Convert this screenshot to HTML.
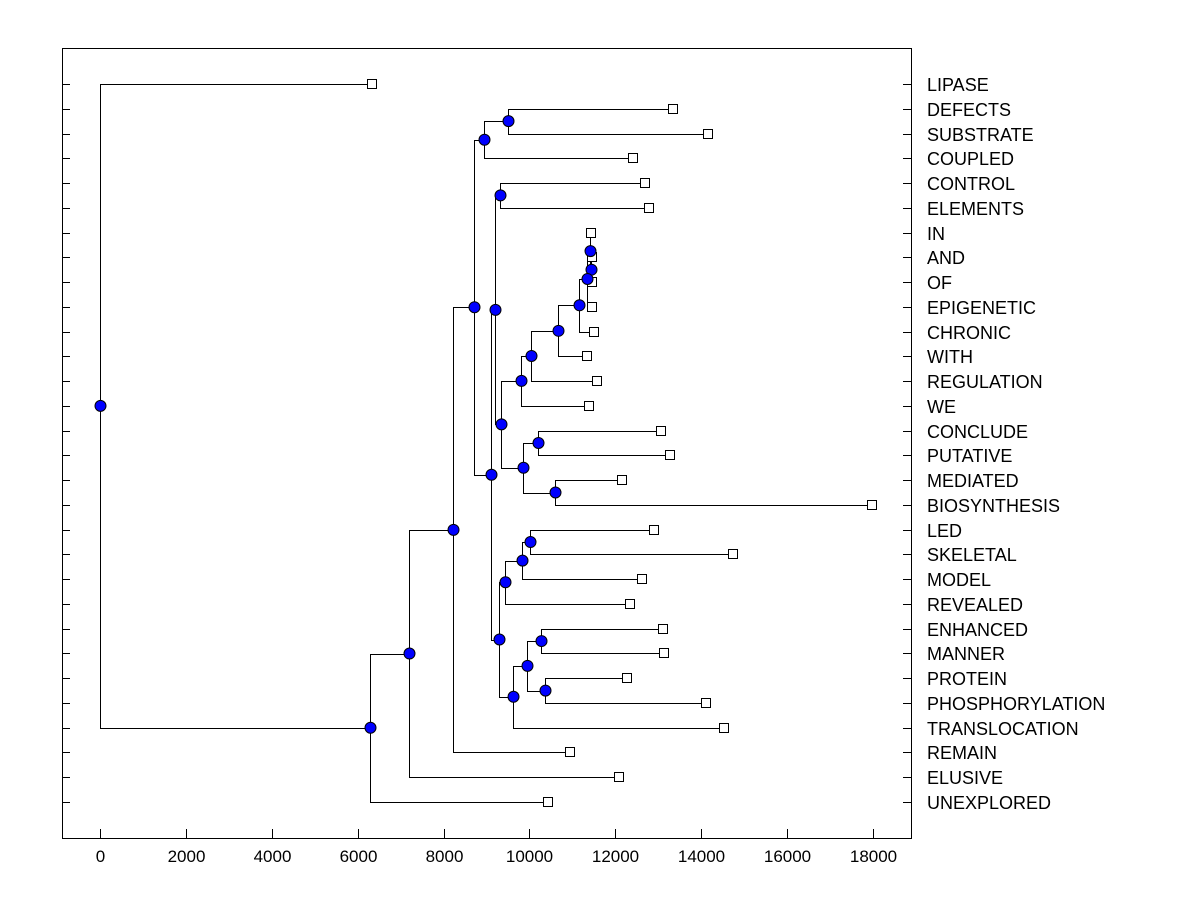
<!DOCTYPE html>
<html><head><meta charset="utf-8">
<style>
html,body{margin:0;padding:0;background:#fff;}
svg{display:block;}
text{font-family:"Liberation Sans",Arial,sans-serif;font-size:16px;fill:#000;}
text.lab{font-size:18px;}
text.tick{font-size:17px;}
</style></head>
<body>
<svg id="chart" width="1200" height="900" xmlns="http://www.w3.org/2000/svg">
<rect x="0" y="0" width="1200" height="900" fill="#fff"/>
<rect x="62.5" y="48.5" width="849" height="790" fill="none" stroke="#000" stroke-width="1"/>
<g id="axes"></g>
<g id="links"></g>
<g id="marks"></g>
</svg>
<script>
const labels = ["LIPASE","DEFECTS","SUBSTRATE","COUPLED","CONTROL","ELEMENTS","IN","AND","OF","EPIGENETIC","CHRONIC","WITH","REGULATION","WE","CONCLUDE","PUTATIVE","MEDIATED","BIOSYNTHESIS","LED","SKELETAL","MODEL","REVEALED","ENHANCED","MANNER","PROTEIN","PHOSPHORYLATION","TRANSLOCATION","REMAIN","ELUSIVE","UNEXPLORED"];
const leafValues = [6334,13343,14158,12411,12691,12784,11433,11457,11457,11457,11503,11340,11573,11387,13064,13273,12155,17977,12900,14740,12621,12342,13110,13133,12272,14111,14530,10944,12086,10432];
const mergeLeft  = [7,6,31,32,33,34,35,14,16,37,36,4,41,18,43,44,22,24,46,48,45,42,1,52,53,54,55,56,0];
const mergeRight = [8,30,9,10,11,12,13,15,17,38,39,5,40,19,20,21,23,25,47,26,49,50,2,3,51,27,28,29,57];
const mergeHeights = [11433,11410,11340,11154,10665,10036,9803,10199,10595,9850,9338,9314,9198,10013,9827,9431,10269,10362,9943,9617,9291,9105,9501,8942,8709,8220,7195,6296,0];
const xTicks = [0,2000,4000,6000,8000,10000,12000,14000,16000,18000];

const NS="http://www.w3.org/2000/svg";
const xScale = v => 100 + v*(773/18000);
const yScale = i => 84 + i*(718/29);
const axes=document.getElementById('axes'), links=document.getElementById('links'), marks=document.getElementById('marks');
function mk(tag, attrs, parent){const e=document.createElementNS(NS,tag);for(const k in attrs)e.setAttribute(k,attrs[k]);parent.appendChild(e);return e;}

xTicks.forEach(t=>{
  const x=Math.round(xScale(t))+0.5;
  const tk=mk('line',{x1:x,y1:829,x2:x,y2:838,stroke:'#000'},axes);
  
  
  const tl=mk('text',{x:x,y:862,'text-anchor':'middle','class':'tick'},axes);
  tl.textContent=t;
  
  
});
labels.forEach((lab,i)=>{
  const y=Math.round(yScale(i))+0.5;
  const lt=mk('line',{x1:62,y1:y,x2:70,y2:y,stroke:'#000'},axes);
  
  
  const rt=mk('line',{x1:903,y1:y,x2:911,y2:y,stroke:'#000'},axes);
  
  
  const tx=mk('text',{x:927,y:y+6.5,'class':'lab'},axes);
  tx.textContent=lab;
  
  
});

const n=labels.length;
const nodeY=[], nodeX=[];
for(let i=0;i<n;i++){nodeY[i]=yScale(i);nodeX[i]=xScale(leafValues[i]);}
for(let k=0;k<mergeHeights.length;k++){
  const a=mergeLeft[k], b=mergeRight[k], id=n+k;
  const x=Math.round(xScale(mergeHeights[k]))+0.5;
  nodeX[id]=x; nodeY[id]=(nodeY[a]+nodeY[b])/2;
  const ya=Math.round(nodeY[a])+0.5, yb=Math.round(nodeY[b])+0.5;
  const p=mk('path',{d:`M${Math.round(nodeX[a])+0.5},${ya}H${x}V${yb}H${Math.round(nodeX[b])+0.5}`,fill:'none',stroke:'#000','stroke-width':1},links);
  
  
}
for(let i=0;i<n;i++){
  const s=mk('rect',{x:Math.round(nodeX[i])-4.5,y:Math.round(nodeY[i])-4.5,width:9,height:9,fill:'#fff',stroke:'#000'},marks);
  
  
}
for(let k=0;k<mergeHeights.length;k++){
  const id=n+k;
  const c=mk('circle',{cx:nodeX[id],cy:nodeY[id],r:5.5,fill:'#0000ff',stroke:'#000'},marks);
  
  
}
</script>
</body></html>
